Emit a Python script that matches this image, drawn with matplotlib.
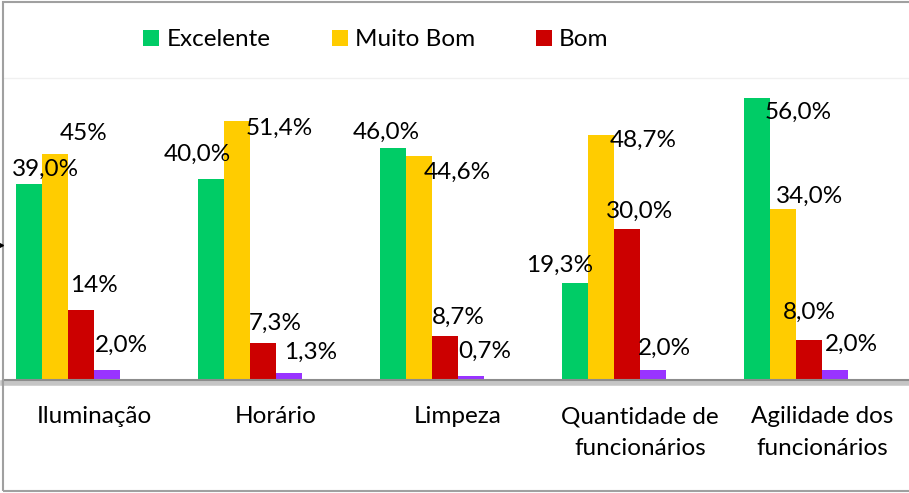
import matplotlib
matplotlib.use("Agg")
import matplotlib.pyplot as plt
import matplotlib.patheffects as pe
from matplotlib.patches import Rectangle, Patch
from matplotlib.lines import Line2D
import numpy as np

plt.rcParams['font.family'] = ['Lato', 'DejaVu Sans']

categories = ["Iluminação", "Horário", "Limpeza", "Quantidade de\nfuncionários", "Agilidade dos\nfuncionários"]
excelente = [39.0, 40.0, 46.0, 19.3, 56.0]
muito_bom = [45.0, 51.4, 44.6, 48.7, 34.0]
bom = [14.0, 7.3, 8.7, 30.0, 8.0]
outro = [2.0, 1.3, 0.7, 2.0, 2.0]

lbl_exc = ["39,0%", "40,0%", "46,0%", "19,3%", "56,0%"]
lbl_mb = ["45%", "51,4%", "44,6%", "48,7%", "34,0%"]
lbl_bom = ["14%", "7,3%", "8,7%", "30,0%", "8,0%"]
lbl_out = ["2,0%", "1,3%", "0,7%", "2,0%", "2,0%"]

# label offsets in pixels (dx, dy up positive) relative to bar top centre
off_exc = [(16, 14), (-14, 24), (-7, 16), (-15, 18), (41, -14)]
off_mb = [(29, 20), (42, -7), (38, -17), (42, -5), (27, 13)]
off_bom = [(13, 24), (12, 20), (13, 19), (13, 18), (0, 27)]
off_out = [(14, 25), (22, 21), (14, 25), (11, 22), (16, 26)]

FS = 17.5
W, H = 909, 493
fig = plt.figure(figsize=(W / 100, H / 100), dpi=100)
fig.patch.set_facecolor("white")

ax = fig.add_axes([3 / W, (H - 380) / H, 910 / W, (380 - 78) / H])
x = np.arange(len(categories))
w = 1 / 7
colors = ["#00CC66", "#FFCC00", "#CC0000", "#9933FF"]
series = [excelente, muito_bom, bom, outro]
labels = [lbl_exc, lbl_mb, lbl_bom, lbl_out]
offsets = [off_exc, off_mb, off_bom, off_out]

for k, (vals, col, lbls, offs) in enumerate(zip(series, colors, labels, offsets)):
    xs = x + (k - 2.5) * w
    ax.bar(xs, vals, width=w, color=col, align="center", zorder=3)
    for xi, v, t, (dx, dy) in zip(xs, vals, lbls, offs):
        ax.annotate(t, xy=(xi, v), xytext=(dx * 0.72, dy * 0.72), textcoords="offset points",
                    ha="center", va="center", fontsize=FS, color="black", zorder=5)

ax.set_xlim(-0.5, len(categories) - 0.5)
ax.set_ylim(0, 60)
ax.set_yticks([])
ax.set_xticks(x)
ax.set_xticklabels(categories, fontsize=FS, linespacing=1.6)
ax.tick_params(axis="x", length=0, pad=19)
for s in ["left", "right"]:
    ax.spines[s].set_visible(False)
ax.spines["top"].set_color("#F0F0F0")
ax.spines["top"].set_linewidth(1)
ax.spines["bottom"].set_color("#8C8C8C")
ax.spines["bottom"].set_linewidth(1.5)
ax.spines["bottom"].set_path_effects([
    pe.SimpleLineShadow(offset=(0, -2.5), shadow_color="gray", alpha=0.45, linewidth=4),
    pe.Normal()])
ax.spines["bottom"].set_zorder(4)

handles = [Patch(facecolor=c, edgecolor="none") for c in colors[:3]]
fig.legend(handles, ["Excelente", "Muito Bom", "Bom"], loc="center",
           bbox_to_anchor=(376 / W, (H - 40) / H), ncol=3, frameon=False, fontsize=FS,
           handlelength=0.66, handleheight=0.66, handletextpad=0.3, columnspacing=2.5,
           borderpad=0)

# outer chart border
fig.add_artist(Rectangle((3 / W, 2 / H), 1.2, (H - 4) / H, transform=fig.transFigure,
                         fill=False, edgecolor="#A0A0A0", linewidth=1.5))
fig.add_artist(Line2D([0.0], [(H - 245) / H], transform=fig.transFigure, marker=">",
                      color="black", markersize=5, linestyle="none"))

fig.savefig("out.png", dpi=100)
